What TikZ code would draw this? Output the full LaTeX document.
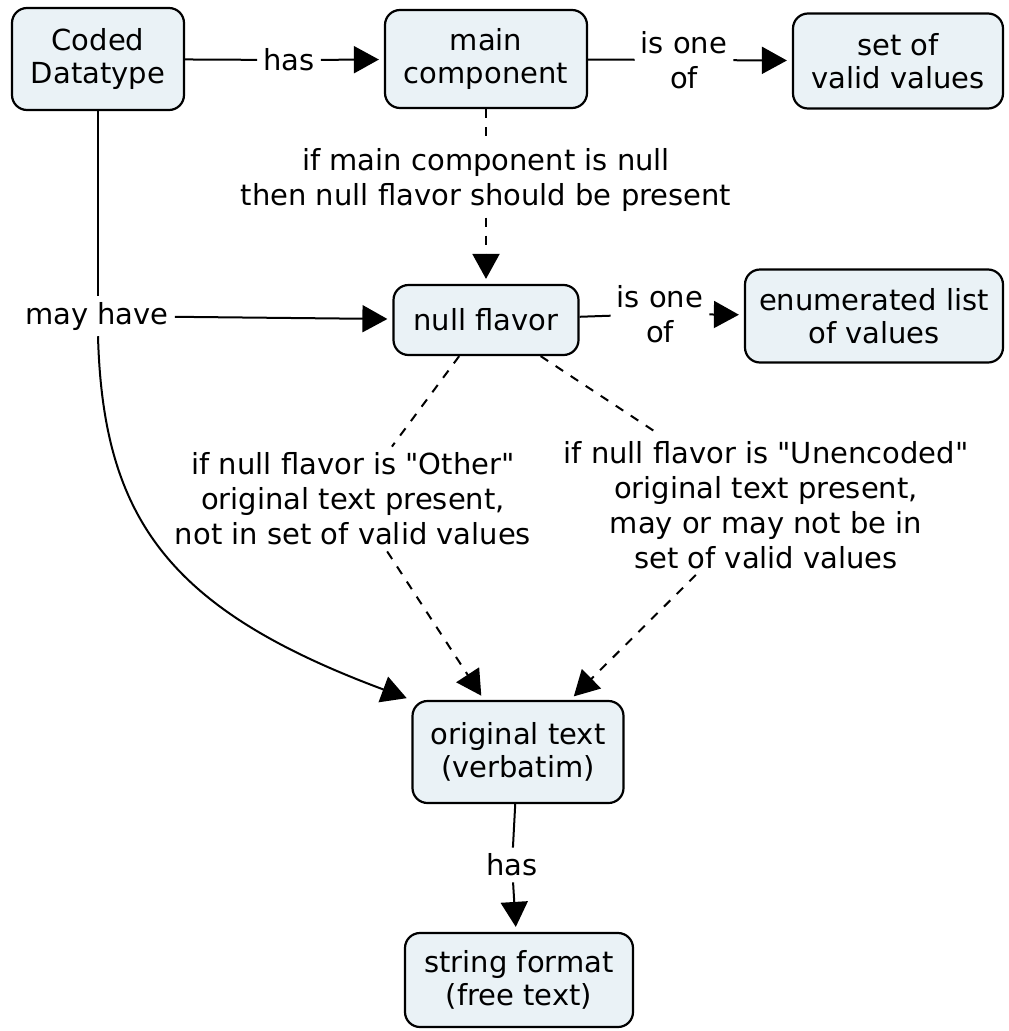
\documentclass[tikz,border=0pt]{standalone}
\usepackage{fontspec}
\setmainfont{DejaVu Sans}
\usetikzlibrary{arrows.meta}
\definecolor{boxfill}{RGB}{234,242,246}
% a plain straight double quote, set as a glyph so no ligature mapping curls it
\newcommand{\straightquote}{\XeTeXglyph\XeTeXcharglyph"22\relax}
\begin{document}
\begin{tikzpicture}[x=1pt,y=-1pt,
  concept/.style={draw=black, line width=2.2pt, rounded corners=15pt, fill=boxfill,
    align=center, inner sep=0pt, font=\fontsize{29}{33}\selectfont},
  linklabel/.style={align=center, inner sep=6pt, font=\fontsize{29}{35}\selectfont},
  link/.style={line width=2pt},
  dlink/.style={line width=2pt, dash pattern=on 9pt off 9pt},
  arrowlink/.style={-{Triangle[length=25pt,width=27pt]}, shorten >=5pt}]
\useasboundingbox (0,0) rectangle (1009,1031);

% concepts
\node[concept, minimum width=172pt, minimum height=102pt] (cd) at (98,59) {Coded\\Datatype};
\node[concept, minimum width=202pt, minimum height=98pt] (mc) at (486,59) {main\\component};
\node[concept, minimum width=210pt, minimum height=95pt] (sv) at (898,61) {set of\\valid values};
\node[concept, minimum width=185pt, minimum height=70pt] (nf) at (486,320) {null flavor};
\node[concept, minimum width=258pt, minimum height=93pt] (el) at (874,316) {enumerated list\\of values};
\node[concept, minimum width=211pt, minimum height=102pt] (ot) at (518,752) {original text\\(verbatim)};
\node[concept, minimum width=228pt, minimum height=94pt] (sf) at (519,980) {string format\\(free text)};

% link labels
\node[linklabel] (has1) at (289,60) {has};
\node[linklabel] (io1) at (684,60) {is one\\of};
\node[linklabel] (cond) at (486,180) {if main component is null\\then null flavor should be present};
\node[linklabel] (mh) at (97,316) {may have};
\node[linklabel] (io2) at (660,314) {is one\\of};
\node[linklabel] (oth) at (353,499) {if null flavor is \straightquote Other\straightquote\\original text present,\\not in set of valid values};
\node[linklabel] (unc) at (766,505) {if null flavor is \straightquote Unencoded\straightquote\\original text present,\\may or may not be in\\set of valid values};
\node[linklabel] (has2) at (512,865) {has};

% connectors
\draw[link] (cd) -- (has1);
\draw[link, arrowlink] (has1) -- (mc);
\draw[link] (mc) -- (io1);
\draw[link, arrowlink] (io1) -- (sv);
\draw[dlink] (mc) -- (cond);
\draw[dlink, arrowlink] (cond) -- (nf);
\draw[link] (cd) -- (cd |- mh.north);
\draw[link, arrowlink] (mh) -- (nf);
\draw[link, arrowlink] (cd |- mh.south) .. controls (103,520) and (170,610) .. (ot.north west);
\draw[link] (nf) -- (io2);
\draw[link, arrowlink] (io2) -- (el);
\draw[dlink] (nf) -- (oth);
\draw[dlink, arrowlink] (oth) -- (ot);
\draw[dlink] (nf) -- (unc);
\draw[dlink, arrowlink] (unc) -- (ot);
\draw[link] (ot) -- (has2);
\draw[link, arrowlink] (has2) -- (sf);
\end{tikzpicture}
\end{document}
